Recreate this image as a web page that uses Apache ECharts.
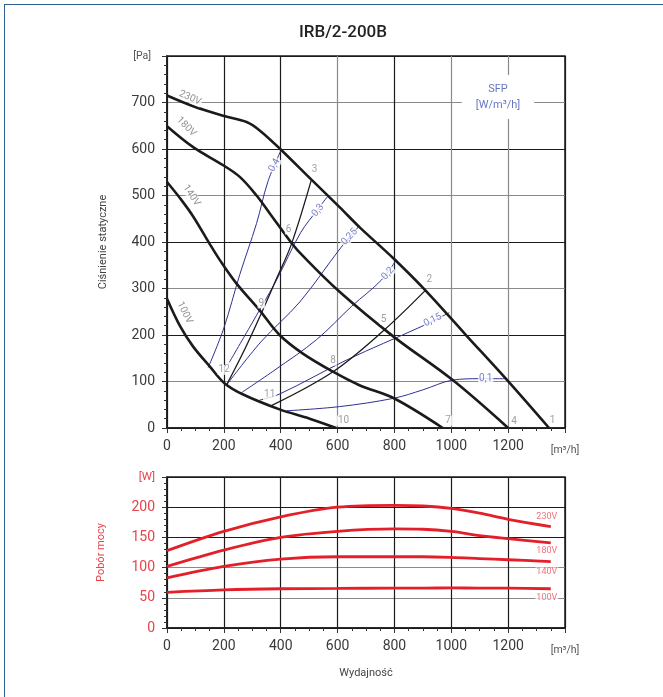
<!DOCTYPE html>
<html><head><meta charset="utf-8">
<script src="https://cdn.jsdelivr.net/npm/echarts@6/dist/echarts.min.js"></script>
<style>
html,body{margin:0;padding:0;background:#fff;overflow:hidden}
#c{width:663px;height:697px;position:absolute;left:0;top:0}
#frame{position:absolute;left:4px;top:4px;width:680px;height:720px;border-left:1.5px solid #2f5d8c;border-top:1.5px solid #2f5d8c;pointer-events:none}
</style></head><body>
<div id="c"></div><div id="frame"></div>
<script>
// ---- data: pressure curves [flow m3/h, pressure Pa]
const fan230 = [[0,715],[92,692],[201,671],[280,658],[326,640],[400,599],[508,534],[607,475],[677,432],[798,364],[909,296],[1050,201],[1195,104],[1344,0]];
const fan180 = [[0,649],[92,604],[198,565],[256,540],[315,500],[361,462],[438,398],[478,370],[607,293],[798,196],[1005,103],[1200,0]];
const fan140 = [[0,529],[46,494],[92,455],[151,395],[186,361],[244,311],[326,253],[396,200],[478,160],[584,121],[677,92],[798,64],[970,0]];
const fan100 = [[0,278],[46,219],[92,175],[151,132],[201,97],[268,72],[396,40],[502,20],[595,0]];
const sysA = [[209,92],[270,165],[332,247],[383,318],[438,396],[508,534]];
const sysB = [[367,48],[584,121],[759,208],[909,296]];
const sfp04 = [[145,130],[200,215],[256,330],[315,440],[355,530],[400,596]];
const sfp03 = [[219,141],[291,217],[385,318],[470,420],[530,470],[565,498]];
const sfp025 = [[209,92],[330,185],[467,271],[613,389],[677,435]];
const sfp02 = [[262,76],[380,125],[526,190],[650,262],[754,318],[807,362]];
const sfp015 = [[326,60],[396,73],[631,146],[894,218],[993,248]];
const sfp01 = [[420,37],[607,46],[798,64],[900,82],[1005,103],[1100,106],[1190,106]];
const sfpNames = ['0,4','0,3','0,25','0,2','0,15','0,1'];
const voltNames = ['230V','180V','140V','100V'];
const pointNames = ['1','2','3','4','5','6','7','8','9','10','11','12'];
// ---- data: power consumption [W]
const powQ = [0,200,400,600,800,900,1000,1100,1200,1350];
const pow230 = [128,160,184,200,203,202,198,190,180,168];
const pow180 = [102,129,150,160,164,163.5,160,153,148,141];
const pow140 = [83,102,114,118,118,118,117,115,113,110];
const pow100 = [59,63,65,65.5,66,66,66.5,66,66,65];
const xTicks = [0,200,400,600,800,1000,1200];
const pTicks = [0,100,200,300,400,500,600,700];
const wTicks = [0,50,100,150,200];

const FONT = 'Roboto';
const chart = echarts.init(document.getElementById('c'), null, {renderer:'canvas'});
const zip = (xs, ys) => xs.map((x,i)=>[x,ys[i]]);

function line(data, color, width, gi){
  return {type:'line', xAxisIndex:gi, yAxisIndex:gi, data, smooth:0.35, showSymbol:false, silent:true,
    lineStyle:{color, width}, z:3, animation:false};
}
function labels(items, gi, color, size){
  return {type:'scatter', xAxisIndex:gi, yAxisIndex:gi, symbolSize:1, silent:true, z:10, animation:false,
    itemStyle:{color:'rgba(0,0,0,0)'},
    data: items.map(it=>({value:[it[1],it[2]], label:{formatter:it[0], rotate:it[3]||0}})),
    label:{show:true, position:'inside', color, fontSize:size, fontFamily:FONT, backgroundColor:'#fff', padding:[0,1]}};
}
const BLACK='#1b1b1b', GRAY='#8a8a8a';
function xAxis(gi, splitColors, name){
  return {type:'value', gridIndex:gi, min:0, max:1400, interval:200,
    axisLine:{show:true, lineStyle:{color:BLACK, width:1.5}},
    axisTick:{show:true, length:5, lineStyle:{color:'#333'}},
    minorTick:{show:true, splitNumber:4, length:3, lineStyle:{color:'#333'}},
    splitLine:{show:true, lineStyle:{color:splitColors, width:1.2}},
    axisLabel:{color:'#3a3a3a', fontSize:14, fontFamily:FONT, margin:11,
      formatter:v=> v===1400 ? '{u|[m³/h]}' : (xTicks.includes(v)? String(v):''),
      rich:{u:{fontSize:10.5, color:'#555', fontFamily:FONT, padding:[6,0,0,0]}}},
    name:name, nameLocation:'middle', nameGap:40, nameTextStyle:{fontSize:11, color:'#444', fontFamily:FONT}};
}
const option = {
  animation:false,
  backgroundColor:'#fff',
  grid:[
    {left:167, right:98, top:56, height:372, show:true, borderColor:BLACK, borderWidth:1.5},
    {left:167, right:98, top:477, height:151, show:true, borderColor:BLACK, borderWidth:1.5}
  ],
  xAxis:[
    xAxis(0, [BLACK,BLACK,BLACK,GRAY,BLACK,GRAY,GRAY,BLACK], ''),
    xAxis(1, [BLACK], 'Wydajność')
  ],
  yAxis:[
    {type:'value', gridIndex:0, min:0, max:800, interval:100,
      axisLine:{show:true, lineStyle:{color:BLACK, width:1.5}},
      axisTick:{show:true, length:5, lineStyle:{color:'#333'}},
      minorTick:{show:true, splitNumber:5, length:3, lineStyle:{color:'#333'}},
      splitLine:{show:true, lineStyle:{color:[BLACK,GRAY], width:1.2}},
      axisLabel:{color:'#3a3a3a', fontSize:14, fontFamily:FONT, margin:12,
        formatter:v=> v===800 ? '{u|[Pa]}' : (pTicks.includes(v)?String(v):''),
        rich:{u:{fontSize:10.5, color:'#555', fontFamily:FONT, padding:[0,4,0,0]}}},
      name:'Ciśnienie statyczne', nameLocation:'middle', nameGap:58,
      nameTextStyle:{fontSize:11, color:'#444', fontFamily:FONT}},
    {type:'value', gridIndex:1, min:0, max:250, interval:50,
      axisLine:{show:true, lineStyle:{color:BLACK, width:1.5}},
      axisTick:{show:true, length:5, lineStyle:{color:'#333'}},
      minorTick:{show:true, splitNumber:5, length:3, lineStyle:{color:'#333'}},
      splitLine:{show:true, lineStyle:{color:[BLACK,GRAY,GRAY,BLACK,BLACK,BLACK], width:1.2}},
      axisLabel:{color:'#e8424a', fontSize:14, fontFamily:FONT, margin:12,
        formatter:v=> v===250 ? '{u|[W]}' : (wTicks.includes(v)?String(v):''),
        rich:{u:{fontSize:11.5, color:'#e8424a', fontFamily:FONT}}},
      name:'Pobór mocy', nameLocation:'middle', nameGap:60,
      nameTextStyle:{fontSize:11, color:'#e8424a', fontFamily:FONT}}
  ],
  graphic:[
    {type:'text', x:343, y:33, z:100, style:{text:'IRB/2-200B', fontSize:17, fontWeight:500, fontFamily:FONT, fill:'#222', align:'center', verticalAlign:'middle'}},
    {type:'text', x:498, y:97, z:100, style:{text:'SFP\n[W/m³/h]', fontSize:11, lineHeight:16, fontFamily:FONT, fill:'#6677c4', align:'center', verticalAlign:'middle', backgroundColor:'#fff', padding:[6,14]}}
  ],
  series:[
    line(sfp04,'#2e3192',1,0), line(sfp03,'#2e3192',1,0), line(sfp025,'#2e3192',1,0),
    line(sfp02,'#2e3192',1,0), line(sfp015,'#2e3192',1,0), line(sfp01,'#2e3192',1,0),
    line(sysA,BLACK,1.3,0), line(sysB,BLACK,1.3,0),
    line(fan230,BLACK,2.6,0), line(fan180,BLACK,2.6,0), line(fan140,BLACK,2.6,0), line(fan100,BLACK,2.6,0),
    labels([[sfpNames[0],378,565,62],[sfpNames[1],531,468,50],[sfpNames[2],642,411,47],[sfpNames[3],777,332,48],[sfpNames[4],935,232,26],[sfpNames[5],1121,106,0]], 0, '#5b68bd', 10),
    labels([[voltNames[0],81,710,-24],[voltNames[1],68,648,-45],[voltNames[2],86,500,-56],[voltNames[3],62,248,-64]], 0, '#777', 10),
    labels([[pointNames[0],1356,17],[pointNames[1],923,319],[pointNames[2],519,556],[pointNames[3],1221,14],[pointNames[4],762,233],[pointNames[5],428,427],
            [pointNames[6],989,16],[pointNames[7],584,145],[pointNames[8],332,268],[pointNames[9],621,16],[pointNames[10],361,71],[pointNames[11],201,125]], 0, '#888', 10),
    line(zip(powQ,pow230),'#e3202a',2.8,1), line(zip(powQ,pow180),'#e3202a',2.8,1),
    line(zip(powQ,pow140),'#e3202a',2.8,1), line(zip(powQ,pow100),'#e3202a',2.8,1),
    labels([[voltNames[0],1336,185],[voltNames[1],1336,128],[voltNames[2],1336,93],[voltNames[3],1336,50]], 1, '#e9505a', 9)
  ]
};
chart.setOption(option);
</script>
</body></html>
